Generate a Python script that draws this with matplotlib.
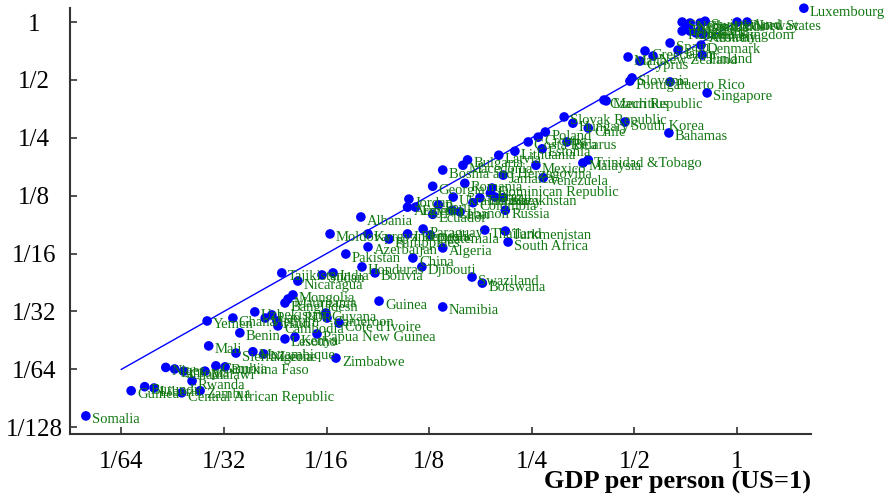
import matplotlib
matplotlib.use("Agg")
import matplotlib.pyplot as plt

# Country, GDP per person (US = 1), consumption-equivalent welfare (US = 1)
countries = [
    "Luxembourg", "United States", "Norway", "Switzerland", "Canada", "Netherlands",
    "Sweden", "Belgium", "France", "United Kingdom", "Iceland", "Germany",
    "Australia", "Denmark", "Finland", "Spain", "Japan", "Greece", "New Zealand",
    "Cyprus", "Malta", "Slovenia", "Portugal", "Puerto Rico", "Singapore",
    "Czech Republic", "Mauritius", "Slovak Republic", "Hungary", "Chile",
    "South Korea", "Bahamas", "Poland", "Croatia", "Costa Rica", "Belarus",
    "Estonia", "Lithuania", "Latvia", "Bulgaria", "Macedonia",
    "Bosnia and Herzegovina", "Jamaica", "Mexico", "Malaysia", "Trinidad &Tobago",
    "Venezuela", "Georgia", "Romania", "Dominican Republic", "Kazakhstan", "Russia",
    "Ecuador", "Jordan", "Armenia", "Egypt", "Ukraine", "Peru", "Colombia",
    "Tunisia", "Brazil", "Turkey", "Iran", "Lebanon", "Albania", "Moldova",
    "Kyrgyz Republic", "Philippines", "Indonesia", "Paraguay", "Guatemala",
    "Thailand", "Turkmenistan", "South Africa", "Azerbaijan", "Algeria", "Pakistan",
    "China", "Honduras", "Djibouti", "Bolivia", "India", "Sudan", "Tajikistan",
    "Nicaragua", "Swaziland", "Botswana", "Mongolia", "Mauritania", "Bangladesh",
    "Guinea", "Namibia", "Uzbekistan", "Vietnam", "Lao PDR", "Haiti", "Cambodia",
    "Guyana", "Cameroon", "Cote d'Ivoire", "Yemen", "Ghana", "Benin",
    "Papua New Guinea", "Kenya", "Lesotho", "Mali", "Sierra Leone", "Mozambique",
    "Nigeria", "Zimbabwe", "Niger", "Ethiopia", "Chad", "Malawi", "Gambia",
    "Burkina Faso", "Rwanda", "Guinea", "Burundi", "Liberia",
    "Central African Republic", "Zambia", "Somalia",
]

gdp_per_person = [
    1.57, 1.0, 1.07, 0.806, 0.779, 0.728,
    0.690, 0.708, 0.690, 0.728, 0.779, 0.758,
    0.795, 0.784, 0.790, 0.636, 0.671, 0.537, 0.567,
    0.519, 0.479, 0.492, 0.485, 0.636, 0.817,
    0.407, 0.413, 0.311, 0.330, 0.366,
    0.469, 0.631, 0.274, 0.261, 0.244, 0.317,
    0.268, 0.223, 0.200, 0.162, 0.157,
    0.137, 0.206, 0.257, 0.353, 0.366,
    0.270, 0.128, 0.159, 0.191, 0.206, 0.209,
    0.128, 0.109, 0.108, 0.114, 0.147, 0.133, 0.168,
    0.176, 0.189, 0.195, 0.154, 0.146, 0.0788, 0.0640,
    0.0827, 0.0953, 0.108, 0.120, 0.126,
    0.182, 0.209, 0.213, 0.0827, 0.137, 0.0712,
    0.112, 0.0794, 0.119, 0.0867, 0.0653, 0.0606, 0.0462,
    0.0515, 0.167, 0.179, 0.0498, 0.0482, 0.0472,
    0.0891, 0.137, 0.0385, 0.0413, 0.0432, 0.0447, 0.0450,
    0.0622, 0.0627, 0.0680, 0.0279, 0.0332, 0.0348,
    0.0586, 0.0505, 0.0472, 0.0282, 0.0339, 0.0380,
    0.0409, 0.0666, 0.0211, 0.0224, 0.0238, 0.0275, 0.0296,
    0.0315, 0.0252, 0.0167, 0.0183, 0.0195,
    0.0235, 0.0266, 0.0123,
]

welfare = [
    1.18, 1.0, 1.0, 1.01, 0.988, 0.988,
    1.0, 0.942, 0.898, 0.898, 0.909, 0.877,
    0.866, 0.759, 0.674, 0.778, 0.715, 0.707, 0.666,
    0.627, 0.658, 0.512, 0.493, 0.488, 0.428,
    0.393, 0.389, 0.321, 0.298, 0.281,
    0.302, 0.265, 0.268, 0.252, 0.238, 0.238,
    0.219, 0.213, 0.203, 0.192, 0.180,
    0.170, 0.160, 0.180, 0.185, 0.192,
    0.155, 0.140, 0.145, 0.137, 0.122, 0.105,
    0.100, 0.120, 0.109, 0.109, 0.123, 0.112, 0.115,
    0.122, 0.129, 0.123, 0.103, 0.105, 0.0969, 0.0791,
    0.0791, 0.0744, 0.0791, 0.0839, 0.0781,
    0.0829, 0.0819, 0.0718, 0.0677, 0.0669, 0.0622,
    0.0593, 0.0533, 0.0533, 0.0496, 0.0496, 0.0484, 0.0496,
    0.0450, 0.0472, 0.0439, 0.0381, 0.0363, 0.0346,
    0.0354, 0.0330, 0.0311, 0.0289, 0.0300, 0.0279, 0.0263,
    0.0307, 0.0289, 0.0272, 0.0279, 0.0289, 0.0242,
    0.0239, 0.0230, 0.0225, 0.0207, 0.0190, 0.0193,
    0.0188, 0.0179, 0.0160, 0.0157, 0.0153, 0.0153, 0.0163,
    0.0161, 0.0136, 0.0121, 0.0127, 0.0125,
    0.0118, 0.0121, 0.00895,
]

# 45-degree reference line endpoints and tick positions
line_range = [1 / 64, 1]
x_ticks = [1 / 64, 1 / 32, 1 / 16, 1 / 8, 1 / 4, 1 / 2, 1]
x_tick_labels = ["1/64", "1/32", "1/16", "1/8", "1/4", "1/2", "1"]
y_ticks = [1 / 128, 1 / 64, 1 / 32, 1 / 16, 1 / 8, 1 / 4, 1 / 2, 1]
y_tick_labels = ["1/128", "1/64", "1/32", "1/16", "1/8", "1/4", "1/2", "1"]

serif = ["Liberation Serif", "DejaVu Serif"]
label_green = "#127812"

fig = plt.figure(figsize=(8.86, 4.97), dpi=100)
ax = fig.add_axes([0.079, 0.1268, 0.8363, 0.8571])
ax.set_xscale("log", base=2)
ax.set_yscale("log", base=2)
ax.set_xlim(0.01105, 1.647)
ax.set_ylim(0.00721, 1.183)

ax.plot(line_range, line_range, color="#0000ff", lw=1.0, zorder=2)
ax.scatter(gdp_per_person, welfare, s=48, color="#0000ff", edgecolors="none",
           zorder=3, clip_on=False)

for name, gx, wy in zip(countries, gdp_per_person, welfare):
    ax.annotate(name, (gx, wy), xytext=(4.3, -2.9), textcoords="offset points",
                fontsize=10.5, color=label_green, family=serif,
                ha="left", va="center", zorder=4, annotation_clip=False)

ax.xaxis.set_major_locator(matplotlib.ticker.FixedLocator(x_ticks))
ax.yaxis.set_major_locator(matplotlib.ticker.FixedLocator(y_ticks))
ax.xaxis.set_minor_locator(matplotlib.ticker.NullLocator())
ax.yaxis.set_minor_locator(matplotlib.ticker.NullLocator())
ax.set_xticklabels(x_tick_labels, fontsize=18, family=serif)
ax.set_yticklabels(y_tick_labels, fontsize=18, family=serif, ha="center")
ax.tick_params(axis="both", direction="in", length=5, width=1.2, color="#333333")
ax.tick_params(axis="x", pad=12)
ax.tick_params(axis="y", pad=26)

for side in ("top", "right"):
    ax.spines[side].set_visible(False)
for side in ("left", "bottom"):
    ax.spines[side].set_linewidth(1.5)
    ax.spines[side].set_color("#333333")

fig.text(0.915, 0.030, "GDP per person (US=1)", ha="right", va="center",
         fontsize=19, fontweight="bold", family=serif)

fig.savefig("out.png", dpi=100)
